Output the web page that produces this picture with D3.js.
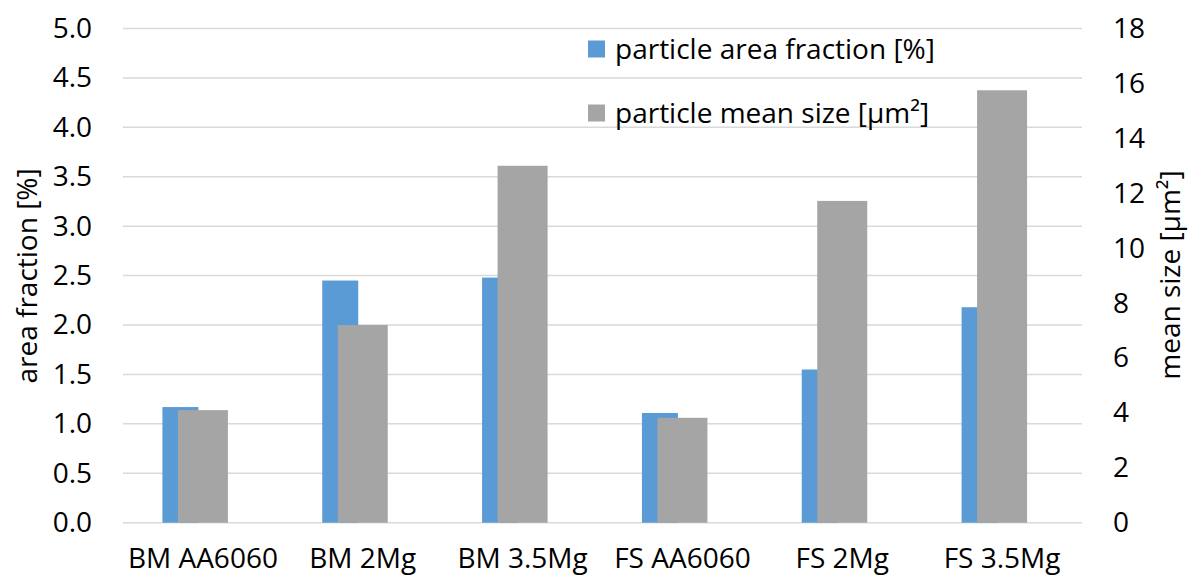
<!DOCTYPE html>
<html>
<head>
<meta charset="utf-8">
<script src="https://cdn.jsdelivr.net/npm/d3@7"></script>
<style>
  body { margin: 0; background: #fff; }
  text { font-family: "Open Sans", sans-serif; fill: #000; }
</style>
</head>
<body>
<svg width="1189" height="579"></svg>
<script>
const categories = ['BM AA6060', 'BM 2Mg', 'BM 3.5Mg', 'FS AA6060', 'FS 2Mg', 'FS 3.5Mg'];
const areaFraction = [1.17, 2.45, 2.48, 1.11, 1.55, 2.18];     // left axis, %
const meanSize = [4.1, 7.2, 13.0, 3.82, 11.72, 15.75];          // right axis, µm²
const leftTicks = [0, 0.5, 1, 1.5, 2, 2.5, 3, 3.5, 4, 4.5, 5];
const rightTicks = [0, 2, 4, 6, 8, 10, 12, 14, 16, 18];
const seriesNames = ['particle area fraction [%]', 'particle mean size [µm²]'];

const colors = ['#5B9BD5', '#A5A5A5'];
const fontSize = '28px';

const svg = d3.select('svg');
const plotLeft = 123, plotRight = 1082, plotTop = 28.5, plotBottom = 522.7;

const x = d3.scaleBand().domain(categories).range([plotLeft, plotRight]).padding(0);
const yL = d3.scaleLinear().domain([0, 5]).range([plotBottom, plotTop]);
const yR = d3.scaleLinear().domain([0, 18]).range([plotBottom, plotTop]);

// gridlines
svg.append('g')
  .selectAll('line')
  .data(leftTicks)
  .join('line')
    .attr('x1', plotLeft)
    .attr('x2', plotRight)
    .attr('y1', d => yL(d))
    .attr('y2', d => yL(d))
    .attr('stroke', '#d9d9d9')
    .attr('stroke-width', 1.5);

const center = d => x(d) + x.bandwidth() / 2;

// area fraction bars (behind)
svg.append('g')
  .selectAll('rect')
  .data(categories)
  .join('rect')
    .attr('x', d => center(d) - 40.5)
    .attr('width', 36)
    .attr('y', (d, i) => yL(areaFraction[i]))
    .attr('height', (d, i) => yL(0) - yL(areaFraction[i]))
    .attr('fill', colors[0]);

// mean size bars (front)
svg.append('g')
  .selectAll('rect')
  .data(categories)
  .join('rect')
    .attr('x', d => center(d) - 25)
    .attr('width', 50)
    .attr('y', (d, i) => yR(meanSize[i]))
    .attr('height', (d, i) => yR(0) - yR(meanSize[i]))
    .attr('fill', colors[1]);

// left axis
const axL = svg.append('g')
  .attr('transform', `translate(${plotLeft},0)`)
  .call(d3.axisLeft(yL).tickValues(leftTicks).tickFormat(d3.format('.1f')).tickSize(0).tickPadding(31));
axL.select('.domain').remove();
axL.selectAll('text').style('font-size', fontSize).style('font-family', '"Open Sans", sans-serif').attr('fill', '#000');

// right axis
const axR = svg.append('g')
  .attr('transform', `translate(${plotRight},0)`)
  .call(d3.axisRight(yR).tickValues(rightTicks).tickSize(0).tickPadding(31));
axR.select('.domain').remove();
axR.selectAll('text').style('font-size', fontSize).style('font-family', '"Open Sans", sans-serif').attr('fill', '#000');

// category axis
const axB = svg.append('g')
  .attr('transform', `translate(0,${plotBottom})`)
  .call(d3.axisBottom(x).tickSize(0).tickPadding(25));
axB.select('.domain').remove();
axB.selectAll('text').style('font-size', fontSize).style('font-family', '"Open Sans", sans-serif').attr('fill', '#000');

// axis titles
svg.append('text')
  .attr('transform', 'translate(37,276) rotate(-90)')
  .attr('text-anchor', 'middle')
  .style('font-size', fontSize)
  .text('area fraction [%]');

svg.append('text')
  .attr('transform', 'translate(1180,275) rotate(-90)')
  .attr('text-anchor', 'middle')
  .style('font-size', fontSize)
  .text('mean size [µm²]');

// legend
const legend = svg.append('g')
  .selectAll('g')
  .data(seriesNames)
  .join('g')
    .attr('transform', (d, i) => `translate(588,${49 + i * 64})`);
legend.append('rect')
  .attr('y', -8.5)
  .attr('width', 17)
  .attr('height', 17)
  .attr('fill', (d, i) => colors[i]);
legend.append('text')
  .attr('x', 27)
  .attr('dy', '0.35em')
  .style('font-size', fontSize)
  .text(d => d);
</script>
</body>
</html>
